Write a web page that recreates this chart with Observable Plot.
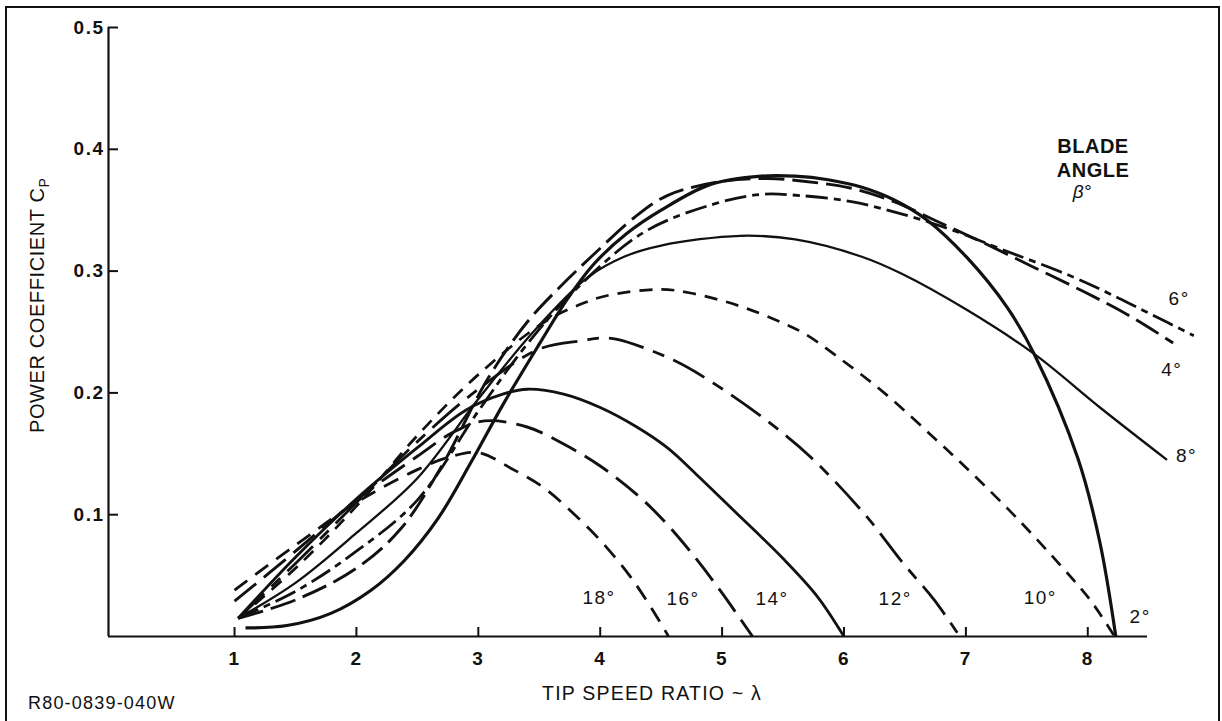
<!DOCTYPE html>
<html>
<head>
<meta charset="utf-8">
<script src="https://cdn.jsdelivr.net/npm/d3@7"></script>
<script src="https://cdn.jsdelivr.net/npm/@observablehq/plot@0.6"></script>
<style>
  html, body { margin: 0; padding: 0; background: #fff; overflow: hidden; }
  #wrap { position: relative; width: 1222px; height: 721px; }
  #frame { position: absolute; left: 5px; top: 6px; width: 1211px; height: 800px;
           border: 2.5px solid #111; border-bottom: none; }
  #chart { position: absolute; left: 0; top: 0; }
</style>
</head>
<body>
<div id="wrap"><div id="frame"></div><div id="chart"></div></div>
<script>
// Power coefficient Cp versus tip speed ratio λ, one curve per blade pitch angle β.
const bladeAngles = [2, 4, 6, 8, 10, 12, 14, 16, 18];

const tsr02 = [1.09, 1.43, 1.79, 2.12, 2.39, 2.67, 2.94, 3.2, 3.5, 3.73, 3.95, 4.22, 4.5, 4.9, 5.32, 5.6, 5.87, 6.14, 6.4, 6.68, 7.01, 7.34, 7.56, 7.92, 8.1, 8.23];
const cp02  = [0.007, 0.009, 0.019, 0.038, 0.062, 0.097, 0.143, 0.19, 0.24, 0.277, 0.306, 0.331, 0.35, 0.371, 0.378, 0.378, 0.375, 0.369, 0.359, 0.342, 0.311, 0.27, 0.232, 0.146, 0.077, 0];

const tsr04 = [1.03, 1.5, 2.0, 2.36, 2.7, 3.08, 3.4, 3.7, 3.95, 4.28, 4.55, 4.96, 5.37, 5.65, 6.06, 6.41, 6.74, 7.15, 7.56, 7.97, 8.33, 8.7];
const cp04  = [0.015, 0.03, 0.056, 0.088, 0.14, 0.212, 0.258, 0.29, 0.314, 0.344, 0.362, 0.373, 0.376, 0.374, 0.368, 0.357, 0.342, 0.323, 0.303, 0.283, 0.264, 0.241];

const tsr06 = [1.03, 1.5, 2.0, 2.5, 3.0, 3.4, 3.8, 4.36, 4.93, 5.32, 5.64, 6.06, 6.47, 6.88, 7.29, 7.86, 8.25, 8.49, 8.87];
const cp06  = [0.015, 0.037, 0.07, 0.112, 0.185, 0.24, 0.285, 0.332, 0.355, 0.363, 0.362, 0.357, 0.347, 0.334, 0.318, 0.296, 0.278, 0.266, 0.247];

const tsr08 = [1.03, 1.5, 2.0, 2.5, 3.0, 3.45, 3.9, 4.2, 4.5, 5.15, 5.6, 6.14, 6.47, 7.01, 7.56, 8.1, 8.65];
const cp08  = [0.015, 0.044, 0.085, 0.13, 0.195, 0.25, 0.295, 0.312, 0.321, 0.329, 0.326, 0.312, 0.298, 0.268, 0.232, 0.188, 0.145];

const tsr10 = [1.03, 1.5, 2.0, 2.5, 3.0, 3.54, 3.87, 4.06, 4.5, 4.74, 4.99, 5.21, 5.46, 5.67, 5.97, 6.33, 6.74, 7.06, 7.42, 7.78, 8.02, 8.22];
const cp10  = [0.015, 0.056, 0.107, 0.165, 0.215, 0.258, 0.274, 0.28, 0.285, 0.282, 0.276, 0.269, 0.259, 0.249, 0.228, 0.2, 0.163, 0.133, 0.097, 0.058, 0.03, 0];

const tsr12 = [1.03, 1.5, 2.0, 2.5, 3.0, 3.5, 3.86, 4.0, 4.14, 4.6, 4.96, 5.37, 5.73, 6.19, 6.47, 6.74, 6.95];
const cp12  = [0.015, 0.06, 0.11, 0.16, 0.203, 0.236, 0.243, 0.245, 0.244, 0.227, 0.206, 0.177, 0.147, 0.098, 0.062, 0.03, 0];

const tsr14 = [1.03, 1.5, 2.0, 2.5, 2.9, 3.2, 3.4, 3.7, 4.0, 4.3, 4.55, 4.8, 5.1, 5.5, 5.78, 6.0];
const cp14  = [0.015, 0.065, 0.113, 0.155, 0.186, 0.199, 0.203, 0.199, 0.188, 0.172, 0.155, 0.132, 0.103, 0.064, 0.033, 0];

const tsr16 = [1.0, 1.5, 2.0, 2.5, 2.8, 3.05, 3.4, 3.7, 4.0, 4.33, 4.55, 4.77, 4.99, 5.25];
const cp16  = [0.029, 0.07, 0.112, 0.148, 0.168, 0.177, 0.172, 0.158, 0.14, 0.114, 0.092, 0.066, 0.037, 0];

const tsr18 = [1.0, 1.5, 2.0, 2.5, 2.75, 3.0, 3.27, 3.54, 3.78, 4.0, 4.27, 4.52, 4.56];
const cp18  = [0.038, 0.075, 0.11, 0.137, 0.147, 0.151, 0.138, 0.122, 0.101, 0.079, 0.046, 0.007, 0];

// Where each curve's "β°" label sits, in (λ, Cp)
const labelTsr = [8.43, 8.69, 8.75, 8.81, 7.61, 6.42, 5.41, 4.68, 3.99];
const labelCp  = [0.016, 0.219, 0.277, 0.148, 0.032, 0.031, 0.031, 0.031, 0.032];

const tsrTicks = [1, 2, 3, 4, 5, 6, 7, 8];
const cpTicks = [0.1, 0.2, 0.3, 0.4, 0.5];
const tsrAxisRange = [-0.034, 8.49];

const xTitle = "TIP SPEED RATIO ~ λ";
const yTitle = "POWER COEFFICIENT C";
const yTitleSub = "P";
const keyTitle = ["BLADE", "ANGLE"];
const keySymbol = "β°";
const drawingNumber = "R80-0839-040W";

// ---- build the long table from the per-curve arrays
const tsrByAngle = [tsr02, tsr04, tsr06, tsr08, tsr10, tsr12, tsr14, tsr16, tsr18];
const cpByAngle  = [cp02, cp04, cp06, cp08, cp10, cp12, cp14, cp16, cp18];
const points = bladeAngles.flatMap((a, k) =>
  tsrByAngle[k].map((t, i) => ({angle: a, tsr: t, cp: cpByAngle[k][i]})));
const labels = bladeAngles.map((a, k) => ({angle: a, tsr: labelTsr[k], cp: labelCp[k]}));

// line styles per pitch angle
const styleFor = {
  2:  {dash: null,           w: 3.2},
  4:  {dash: "26,8",         w: 2.9},
  6:  {dash: "22,6,7,6",     w: 2.8},
  8:  {dash: null,           w: 2.3},
  10: {dash: "13,9",         w: 2.7},
  12: {dash: "36,10,12,10",  w: 2.8},
  14: {dash: null,           w: 2.8},
  16: {dash: "28,10",        w: 2.9},
  18: {dash: "16,10",        w: 2.8}
};

const W = 1222, H = 721, mL = 108, mR = 75, mT = 27, mB = 85;
const frameW = W - mL - mR, frameH = H - mT - mB;
const ink = "#111";
const font = "'Liberation Sans', Arial, Helvetica, sans-serif";

const curveMarks = bladeAngles.map(a => Plot.line(points.filter(d => d.angle === a), {
  x: "tsr", y: "cp", curve: "catmull-rom",
  stroke: ink, strokeWidth: styleFor[a].w,
  strokeDasharray: styleFor[a].dash, strokeLinecap: "butt", strokeLinejoin: "round"
}));

const chart = Plot.plot({
  width: W, height: H,
  marginLeft: mL, marginRight: mR, marginTop: mT, marginBottom: mB,
  x: {domain: tsrAxisRange, axis: null},
  y: {domain: [0, 0.5], axis: null},
  style: {fontFamily: font, background: "transparent", color: ink, overflow: "visible"},
  marks: [
    // axis lines
    Plot.ruleX([tsrAxisRange[0]], {y1: 0, y2: 0.5, stroke: ink, strokeWidth: 2.2}),
    Plot.ruleY([0], {x1: tsrAxisRange[0], x2: tsrAxisRange[1], stroke: ink, strokeWidth: 2.2}),
    // inward ticks
    Plot.tickY(cpTicks, {y: d => d, insetRight: frameW - 10, stroke: ink, strokeWidth: 2}),
    Plot.tickX(tsrTicks, {x: d => d, insetTop: frameH - 9, stroke: ink, strokeWidth: 2}),
    // tick labels
    Plot.text(cpTicks, {x: tsrAxisRange[0], y: d => d, text: d => d.toFixed(1),
      textAnchor: "end", lineAnchor: "middle", dx: -4, fontSize: 19, fontWeight: "bold", fill: ink}),
    Plot.text(tsrTicks, {x: d => d, y: 0, text: d => String(d),
      textAnchor: "middle", lineAnchor: "top", dy: 15, fontSize: 19, fontWeight: "bold", fill: ink}),
    ...curveMarks,
    Plot.text(labels, {x: "tsr", y: "cp", text: d => d.angle + "°",
      textAnchor: "middle", lineAnchor: "middle", fontSize: 19, fill: ink,
      fontWeight: d => d.angle <= 8 ? "bold" : "normal"})
  ]
});

const svg = d3.select(chart);
svg.style("letter-spacing", "1.5px");

// y-axis title with subscript P
const yt = svg.append("text")
  .attr("transform", "translate(44,433) rotate(-90)")
  .attr("text-anchor", "start")
  .attr("font-family", font).attr("font-size", 20).attr("fill", ink)
  .attr("letter-spacing", "0.6px");
yt.append("tspan").text(yTitle);
yt.append("tspan").attr("dy", 5).attr("font-size", 14).text(yTitleSub);

// x-axis title
svg.append("text").attr("x", 652).attr("y", 700).attr("text-anchor", "middle")
  .attr("font-family", font).attr("font-size", 19.5).attr("fill", ink)
  .attr("letter-spacing", "1.2px").text(xTitle);

// key heading
keyTitle.forEach((t, i) => svg.append("text")
  .attr("x", 1093).attr("y", 153 + 24 * i).attr("text-anchor", "middle")
  .attr("font-family", font).attr("font-size", 20).attr("font-weight", "bold")
  .attr("fill", ink).attr("letter-spacing", "0.5px").text(t));
svg.append("text").attr("x", 1082).attr("y", 198).attr("text-anchor", "middle")
  .attr("font-family", font).attr("font-size", 19).attr("font-style", "italic")
  .attr("fill", ink).attr("letter-spacing", "0").text(keySymbol);

// drawing number
svg.append("text").attr("x", 28).attr("y", 709).attr("text-anchor", "start")
  .attr("font-family", font).attr("font-size", 18).attr("fill", ink)
  .attr("letter-spacing", "1.2px").text(drawingNumber);

document.getElementById("chart").appendChild(chart);
</script>
</body>
</html>
